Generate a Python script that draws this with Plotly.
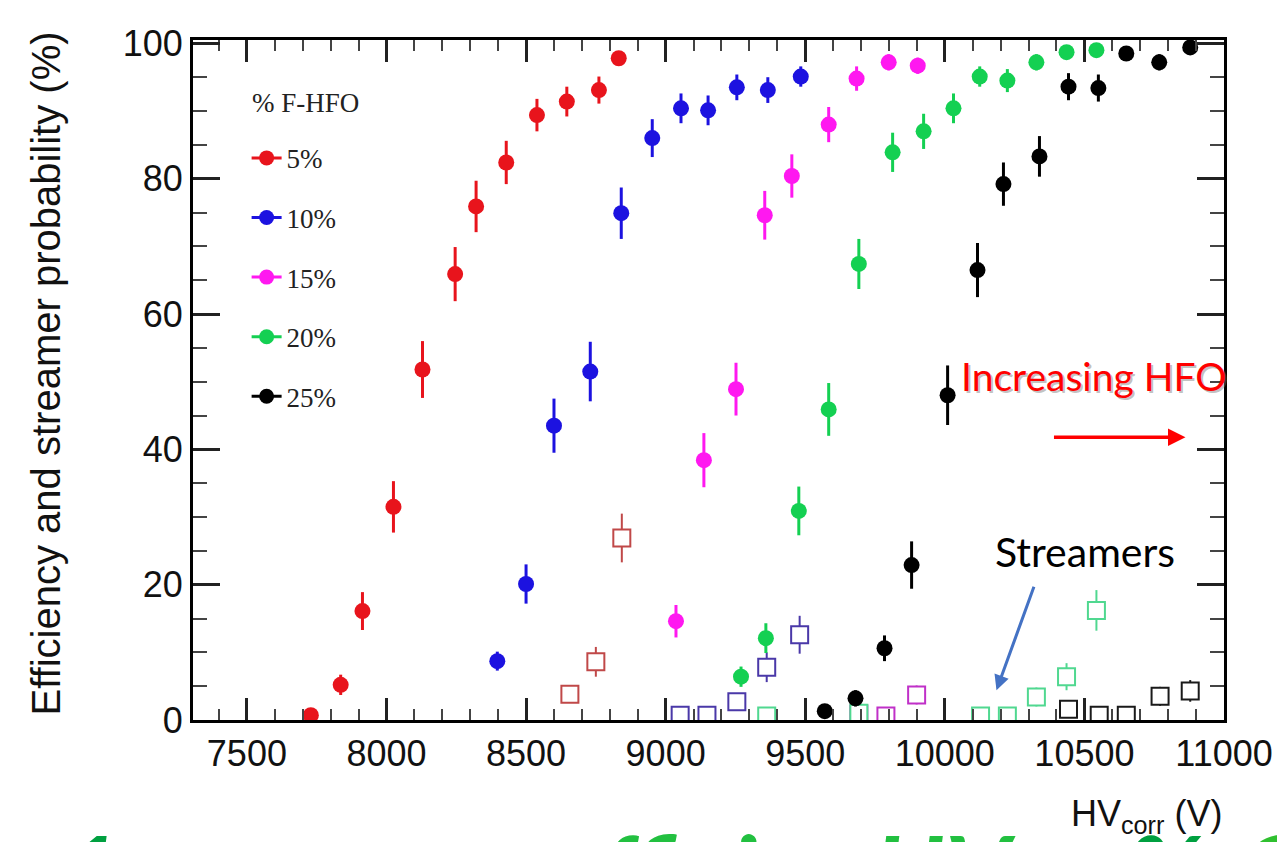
import plotly.graph_objects as go

# ---------------- data ----------------
series_names = ["5%", "10%", "15%", "20%", "25%"]
series_colors = ["#e8141c", "#1c12e0", "#ff18f0", "#14d052", "#000000"]
stream_colors = ["#c04848", "#4a38a8", "#c030c8", "#50d890", "#1a1a1a"]

# efficiency (filled circles)
eff_x = [
    [7729, 7836, 7914, 8025, 8129, 8246, 8321, 8429, 8539, 8646, 8761, 8832],
    [8397, 8500, 8600, 8730, 8841, 8952, 9055, 9152, 9255, 9366, 9484],
    [9037, 9137, 9252, 9355, 9452, 9584, 9684, 9799, 9903],
    [9270, 9359, 9477, 9584, 9692, 9813, 9924, 10031, 10125, 10224, 10328, 10436, 10543],
    [9570, 9680, 9784, 9881, 10010, 10117, 10210, 10339, 10443, 10550, 10650, 10768, 10879],
]
eff_y = [
    [0.7, 5.2, 16.1, 31.5, 51.8, 65.9, 75.9, 82.4, 89.4, 91.4, 93.1, 97.8],
    [8.7, 20.1, 43.5, 51.5, 74.9, 86.0, 90.4, 90.1, 93.5, 93.1, 95.1],
    [14.6, 38.4, 48.9, 74.6, 80.4, 88.0, 94.8, 97.2, 96.7],
    [6.4, 12.1, 30.9, 45.9, 67.4, 83.9, 87.0, 90.4, 95.1, 94.5, 97.2, 98.7, 99.0],
    [1.3, 3.2, 10.6, 22.9, 48.0, 66.5, 79.2, 83.3, 93.6, 93.4, 98.5, 97.2, 99.4],
]
eff_err = [
    [0.4, 1.5, 2.8, 3.8, 4.2, 4.0, 3.8, 3.2, 2.4, 2.2, 2.0, 1.0],
    [1.4, 2.9, 4.0, 4.4, 3.8, 2.8, 2.2, 2.2, 1.9, 1.9, 1.5],
    [2.4, 4.0, 3.9, 3.6, 3.2, 2.6, 1.8, 1.2, 1.2],
    [1.5, 2.2, 3.6, 3.9, 3.7, 2.9, 2.6, 2.2, 1.5, 1.7, 1.2, 0.8, 0.7],
    [0.6, 1.2, 1.9, 3.5, 4.4, 4.0, 3.2, 3.0, 2.0, 2.0, 0.8, 1.2, 0.6],
]

# streamer probability (open squares)
str_x = [
    [8657, 8750, 8843],
    [9052, 9148, 9255, 9362, 9480],
    [9692, 9789, 9899],
    [9362, 9692, 10128, 10224, 10328, 10436, 10543],
    [10443, 10553, 10650, 10771, 10879],
]
str_y = [
    [3.8, 8.6, 26.9],
    [0.7, 0.7, 2.7, 7.8, 12.6],
    [0.9, 0.6, 3.7],
    [0.6, 1.0, 0.6, 0.6, 3.4, 6.4, 16.2],
    [1.6, 0.7, 0.7, 3.5, 4.3],
]
str_err = [
    [1.2, 2.2, 3.6],
    [0.4, 0.4, 1.2, 2.2, 2.8],
    [0.5, 0.4, 1.4],
    [0.4, 0.5, 0.4, 0.4, 1.4, 2.0, 3.0],
    [0.6, 0.4, 0.4, 1.4, 1.6],
]

x_ticks = [7500, 8000, 8500, 9000, 9500, 10000, 10500, 11000]
x_tick_labels = ["7500", "8000", "8500", "9000", "9500", "10000", "10500", "11000"]
y_ticks = [0, 20, 40, 60, 80, 100]

# ---------------- figure ----------------
fig = go.Figure()

for i, name in enumerate(series_names):
    fig.add_trace(go.Scatter(
        x=str_x[i], y=str_y[i], mode="markers", showlegend=False,
        marker=dict(symbol="square", size=17, color="white",
                    line=dict(color=stream_colors[i], width=2)),
        error_y=dict(type="data", array=str_err[i], color=stream_colors[i],
                     thickness=2, width=0),
        hoverinfo="x+y",
    ))

for i, name in enumerate(series_names):
    fig.add_trace(go.Scatter(
        x=eff_x[i], y=eff_y[i], mode="markers", showlegend=False,
        marker=dict(symbol="circle", size=16, color=series_colors[i]),
        error_y=dict(type="data", array=eff_err[i], color=series_colors[i],
                     thickness=3, width=0),
        hoverinfo="x+y",
    ))

# legend-only entries (marker with line, ROOT style)
for i, name in enumerate(series_names):
    fig.add_trace(go.Scatter(
        x=[None], y=[None], mode="lines+markers", name=name,
        legendgroup=name,
        marker=dict(symbol="circle", size=15, color=series_colors[i]),
        line=dict(color=series_colors[i], width=3),
    ))

axis_common = dict(
    showline=True, linecolor="black", linewidth=3, mirror="ticks",
    ticks="inside", tickcolor="#222", showgrid=False, zeroline=False,
    tickfont=dict(family="Liberation Sans, Arial", size=36, color="#111"),
)

fig.update_xaxes(
    range=[7307, 11000], tickvals=x_ticks, ticktext=x_tick_labels, ticklen=22, tickwidth=2.5,
    minor=dict(ticks="inside", dtick=100, tick0=7500, ticklen=11, tickwidth=2, tickcolor="#444"),
    **axis_common,
)
fig.update_yaxes(
    range=[0, 100.5], tickvals=y_ticks, ticklen=27, tickwidth=2.5,
    minor=dict(ticks="inside", dtick=5, tick0=0, ticklen=14, tickwidth=2, tickcolor="#444"),
    **axis_common,
)

green_font = dict(family="Lato, Open Sans", size=100)
gy = -0.128

fig.update_layout(
    width=1277, height=834,
    margin=dict(l=185, r=58, t=32, b=122),
    paper_bgcolor="white", plot_bgcolor="white",
    legend=dict(
        x=0.052, y=0.862, xanchor="left", yanchor="top",
        bgcolor="rgba(255,255,255,0)", borderwidth=0,
        font=dict(family="Liberation Serif, Times New Roman", size=27, color="#222"),
        tracegroupgap=21.5, itemwidth=30,
    ),
    annotations=[
        # cut-off slide subtitle (bottom edge), drawn first so it sits underneath
        dict(text="<b><i>1</i></b>", xref="paper", yref="paper", x=-0.0977, y=gy,
             xanchor="center", yanchor="top", showarrow=False,
             font=dict(color="#00a040", **green_font)),
        dict(text="<b><i>efficiency</i></b>", xref="paper", yref="paper", x=0.347, y=gy,
             xanchor="left", yanchor="top", showarrow=False,
             font=dict(color="#22c040", **green_font)),
        dict(text="<b><i>vs HV</i></b>", xref="paper", yref="paper", x=0.80, y=gy,
             xanchor="right", yanchor="top", showarrow=False,
             font=dict(color="#22c040", **green_font)),
        dict(text="<b><i>%</i></b>", xref="paper", yref="paper", x=0.943, y=gy,
             xanchor="center", yanchor="top", showarrow=False,
             font=dict(color="#00a040", **green_font)),
        dict(text="<b><i>C</i></b>", xref="paper", yref="paper", x=1.0126, y=gy,
             xanchor="left", yanchor="top", showarrow=False,
             font=dict(color="#30c030", **green_font)),
        dict(text="% F-HFO", xref="paper", yref="paper", x=0.0551, y=0.907,
             xanchor="left", yanchor="middle", showarrow=False,
             font=dict(family="Liberation Serif, Times New Roman", size=27, color="#222")),
        dict(text="Efficiency and streamer probability (%)", xref="paper", yref="paper",
             x=-0.143, y=0.509, textangle=-90, showarrow=False, xanchor="center", yanchor="middle",
             font=dict(family="Liberation Sans, Arial", size=40, color="#111")),
        dict(text="HV<sub>corr</sub> (V)", xref="paper", yref="paper",
             x=1.0, y=-0.105, xanchor="right", yanchor="top", showarrow=False,
             font=dict(family="Liberation Sans, Arial", size=36, color="#111")),
        # shadow + text
        dict(text="Increasing HFO", x=10532, y=50.9,
             xref="x", yref="y", showarrow=False, xanchor="center", yanchor="middle",
             xshift=2, yshift=-2,
             font=dict(family="Lato, Open Sans", size=39, color="rgba(120,120,120,0.45)")),
        dict(text="Increasing HFO", x=10532, y=50.9,
             xref="x", yref="y", showarrow=False, xanchor="center", yanchor="middle",
             font=dict(family="Lato, Open Sans", size=39, color="#ff0000")),
        dict(text="", x=10862, y=41.8, xref="x", yref="y", showarrow=True,
             ax=-133, ay=0, arrowcolor="#ff0000", arrowwidth=3.5, arrowhead=2, arrowsize=1),
        dict(text="Streamers", x=10503, y=24.9, xref="x", yref="y", showarrow=False,
             xanchor="center", yanchor="middle",
             font=dict(family="Lato, Open Sans", size=41, color="#000000")),
        dict(text="", x=10185, y=4.4, xref="x", yref="y", showarrow=True,
             ax=38, ay=-105, arrowcolor="#4472c4", arrowwidth=3, arrowhead=2, arrowsize=1),
    ],
)

fig.write_html("out.html")
